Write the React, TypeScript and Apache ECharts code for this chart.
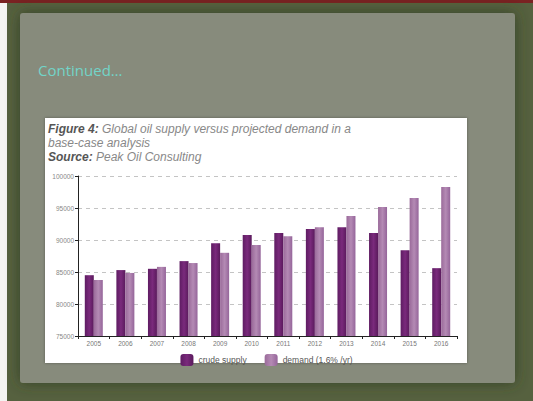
import React, { useEffect, useRef } from "react";
import * as echarts from "echarts";

const years = ["2005", "2006", "2007", "2008", "2009", "2010", "2011", "2012", "2013", "2014", "2015", "2016"];
const crudeSupply = [84500, 85300, 85500, 86700, 89500, 90800, 91100, 91700, 92000, 91100, 88400, 85600];
const demand = [83750, 84850, 85800, 86400, 88000, 89200, 90600, 92000, 93750, 95150, 96550, 98300];
const yTicks = { min: 75000, max: 100000, interval: 5000 };
const seriesNames = ["crude supply", "demand (1.6% /yr)"];

export default function App() {
  const ref = useRef<HTMLDivElement>(null);
  useEffect(() => {
    document.body.style.margin = "0";
    const chart = echarts.init(ref.current!, null, { renderer: "svg" });
    const supplyColor = new echarts.graphic.LinearGradient(0, 0, 1, 0, [
      { offset: 0, color: "#5e1c62" },
      { offset: 0.5, color: "#7a2a7c" },
      { offset: 1, color: "#5a1a5c" },
    ]);
    const demandColor = new echarts.graphic.LinearGradient(0, 0, 1, 0, [
      { offset: 0, color: "#9a6a9a" },
      { offset: 0.5, color: "#b48ab4" },
      { offset: 1, color: "#95659a" },
    ]);
    chart.setOption({
      animation: false,
      backgroundColor: "#56613f",
      graphic: [
        {
          type: "rect",
          shape: { x: 0, y: 0, width: 533, height: 3 },
          style: { fill: "#7a2222" },
          z: -10,
        },
        {
          type: "rect",
          shape: { x: 0, y: 3, width: 7, height: 398 },
          style: { fill: "#f4f4f2" },
          z: -10,
        },
        {
          type: "rect",
          shape: { x: 20, y: 13, width: 495, height: 370, r: 3 },
          style: {
            fill: "#878b7c",
            shadowBlur: 14,
            shadowColor: "rgba(50,60,35,0.9)",
          },
          z: -9,
        },
        {
          type: "text",
          left: 38,
          top: 62,
          style: { text: "Continued…", fill: "#72d4c8", font: "15px 'Open Sans', 'DejaVu Sans', sans-serif" },
          z: 5,
        },
        {
          type: "rect",
          shape: { x: 45, y: 118, width: 422, height: 245 },
          style: { fill: "#ffffff", shadowBlur: 3, shadowColor: "rgba(0,0,0,0.35)" },
          z: -5,
        },
        {
          type: "text",
          left: 48,
          top: 122,
          style: {
            text: "{b|Figure 4:} {n|Global oil supply versus projected demand in a}\n{n|base-case analysis}\n{b|Source:} {n|Peak Oil Consulting}",
            lineHeight: 14,
            rich: {
              b: { font: "bold italic 12px 'Liberation Sans', Arial, sans-serif", fill: "#555", lineHeight: 14 },
              n: { font: "italic 12px 'Liberation Sans', Arial, sans-serif", fill: "#888", lineHeight: 14 },
            },
          },
          z: 5,
        },
      ],
      grid: { left: 78, right: 76, top: 176, bottom: 65, containLabel: false },
      legend: {
        data: seriesNames,
        left: "center",
        top: 349,
        itemWidth: 13,
        itemHeight: 12,
        itemGap: 18,
        textStyle: { fontSize: 8.5, color: "#555", fontFamily: "'Liberation Sans', Arial, sans-serif" },
      },
      xAxis: {
        type: "category",
        data: years,
        axisLine: { lineStyle: { color: "#222", width: 1 } },
        axisTick: { show: true, length: 3, lineStyle: { color: "#222" } },
        axisLabel: { fontSize: 6.5, color: "#777", margin: 4, fontFamily: "'Liberation Sans', Arial, sans-serif" },
      },
      yAxis: {
        type: "value",
        min: yTicks.min,
        max: yTicks.max,
        interval: yTicks.interval,
        axisLine: { show: true, lineStyle: { color: "#222", width: 1 } },
        axisTick: { show: true, length: 3, lineStyle: { color: "#222" } },
        axisLabel: {
          fontSize: 6.5,
          color: "#888",
          margin: 4,
          fontFamily: "'Liberation Sans', Arial, sans-serif",
          formatter: (v: number) => String(v),
        },
        splitLine: { show: true, lineStyle: { color: "#c4c4c4", type: [4, 4] } },
      },
      series: [
        {
          name: seriesNames[0],
          type: "bar",
          data: crudeSupply,
          barWidth: 9,
          barGap: "0%",
          itemStyle: { color: supplyColor },
        },
        {
          name: seriesNames[1],
          type: "bar",
          data: demand,
          barWidth: 9,
          barGap: "0%",
          itemStyle: { color: demandColor },
        },
      ],
    });
    return () => chart.dispose();
  }, []);
  return <div ref={ref} style={{ position: "absolute", left: 0, top: 0, width: 533, height: 401 }} />;
}
